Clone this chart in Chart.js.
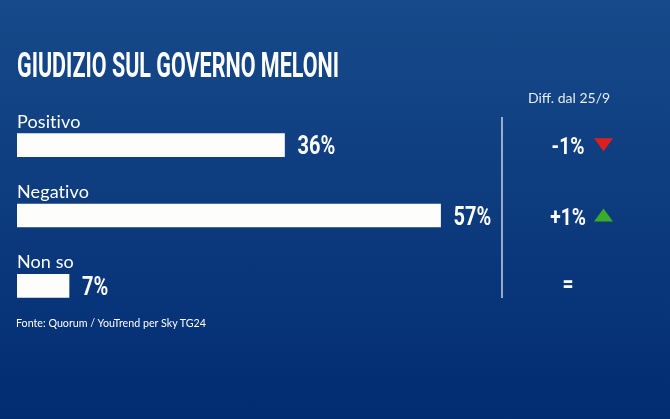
<!DOCTYPE html>
<html>
<head>
<meta charset="utf-8">
<script src="https://cdn.jsdelivr.net/npm/chart.js@4"></script>
<style>
  body {
    margin: 0;
    width: 670px;
    height: 419px;
    overflow: hidden;
    position: relative;
    background: linear-gradient(#174a8a, #022c72);
    color: #fff;
  }
  #grafica { position: absolute; left: 0; top: 0; }
  .texto { position: absolute; white-space: nowrap; transform-origin: left top; }
  #titulo {
    left: 17px; top: 47.5px;
    font: 700 35px/35px Roboto, sans-serif;
  }
  #cabecera {
    left: 528px; top: 90.6px;
    font: 14px/14px Lato, sans-serif;
    color: #e6ecf5;
  }
  #fuente {
    left: 16px; top: 316.7px;
    font: 12px/12px Lato, sans-serif;
  }
</style>
</head>
<body>
<canvas id="grafica" width="670" height="419"></canvas>
<div class="texto" id="titulo">GIUDIZIO SUL GOVERNO MELONI</div>
<div class="texto" id="cabecera">Diff. dal 25/9</div>
<div class="texto" id="fuente">Fonte: Quorum / YouTrend per Sky TG24</div>

<script>
// datos del sondeo
const categorias = ["Positivo", "Negativo", "Non so"];
const valores = [36, 57, 7];
const diferencias = [-1, 1, 0];

// textos estrechos, como la fuente de Sky
const ajustar = (sel, ancho) => {
    const el = document.querySelector(sel);
    el.style.transform = `scaleX(${ancho / el.getBoundingClientRect().width})`;
};
ajustar("#titulo", 322);
ajustar("#fuente", 190);

const condensado = (ctx, texto, x, y, sx, font, align) => {
    ctx.save();
    ctx.font = font;
    ctx.textAlign = align;
    ctx.textBaseline = "alphabetic";
    ctx.translate(x, y);
    ctx.scale(sx, 1);
    ctx.fillText(texto, 0, 0);
    ctx.restore();
};

const etiquetas = {
    id: "etiquetas",
    afterDatasetsDraw(chart) {
        const { ctx, scales: { x, y } } = chart;
        ctx.save();

        // linea separadora de la columna de diferencias
        ctx.strokeStyle = "rgba(230,236,245,0.85)";
        ctx.lineWidth = 1.5;
        ctx.beginPath();
        ctx.moveTo(502, 117);
        ctx.lineTo(502, 298);
        ctx.stroke();

        categorias.forEach((cat, i) => {
            const yc = y.getPixelForValue(i);
            const x0 = x.getPixelForValue(0);
            const xf = x.getPixelForValue(valores[i]);

            ctx.fillStyle = "#fff";
            ctx.font = "18px Lato";
            ctx.letterSpacing = "0.1px";
            ctx.textAlign = "left";
            ctx.textBaseline = "alphabetic";
            ctx.fillText(cat, x0, yc - 11.5 - 6);
            ctx.letterSpacing = "0px";

            condensado(ctx, valores[i] + "%", xf + 13, yc + 9, 0.8, "700 25px Roboto", "left");

            const d = diferencias[i];
            const txt = d === 0 ? "=" : (d > 0 ? "+" : "-") + Math.abs(d) + "%";
            condensado(ctx, txt, 568, d === 0 ? yc + 6 : yc + 9, 0.8, "700 24px Roboto", "center");

            if (d !== 0) {
                ctx.fillStyle = d > 0 ? "#3aab2b" : "#de1f1f";
                ctx.beginPath();
                if (d > 0) {
                    ctx.moveTo(594, yc + 6);
                    ctx.lineTo(613, yc + 6);
                    ctx.lineTo(603.5, yc - 7);
                } else {
                    ctx.moveTo(594, yc - 7);
                    ctx.lineTo(613, yc - 7);
                    ctx.lineTo(603.5, yc + 6);
                }
                ctx.closePath();
                ctx.fill();
            }
        });
        ctx.restore();
    }
};

new Chart(document.querySelector("#grafica"), {
    type: "bar",
    data: {
        labels: categorias,
        datasets: [{
            data: valores,
            backgroundColor: "#fdfdfb",
            borderWidth: 0,
            barThickness: 23
        }]
    },
    options: {
        indexAxis: "y",
        responsive: false,
        animation: false,
        layout: { padding: { left: 17, right: 170, top: 110, bottom: 98 } },
        scales: {
            x: { display: false, min: 0, max: 65 },
            y: { display: false }
        },
        plugins: {
            legend: { display: false },
            tooltip: { enabled: false }
        }
    },
    plugins: [etiquetas]
});
</script>
</body>
</html>
